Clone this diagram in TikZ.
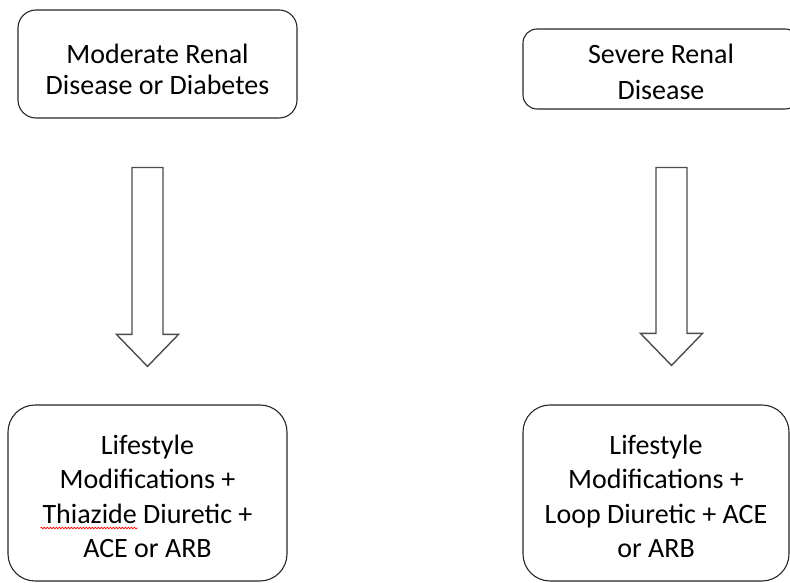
\documentclass[tikz,border=0pt]{standalone}
\usepackage{fontspec}
\setmainfont{Carlito}
\usetikzlibrary{positioning,calc,decorations.pathmorphing}
\tikzstyle{RECTANGLE_1} = [rectangle, draw=black!85, line width=1.1pt, rounded corners=18pt, align=center, inner sep=0pt, text depth=0pt]
\tikzstyle{RECTANGLE_2} = [rectangle, draw=black!85, line width=1.1pt, rounded corners=27pt, align=center, inner sep=0pt, minimum height=176pt, text height=130pt, text depth=0pt, font=\fontsize{28}{34.5}\selectfont]
\tikzstyle{BIGARROW} = [draw=black!70, line width=1.4pt, line join=miter, fill=white]
\tikzstyle{SPELL} = [draw=red, line width=0.7pt, decorate, decoration={snake, amplitude=0.8pt, segment length=3pt}]

\begin{document}
\begin{tikzpicture}[x=1pt, y=1pt]
\useasboundingbox (0,0) rectangle (790,583);
% Place nodes
\node [RECTANGLE_1, minimum width=279pt, minimum height=108pt, text height=61pt, font=\fontsize{28}{31}\selectfont] (moderate) at (157.5,519) {Moderate Renal\\Disease or Diabetes};
\node [RECTANGLE_1, rounded corners=14pt, minimum width=276pt, minimum height=80pt, text height=62pt, font=\fontsize{28}{36}\selectfont] (severe) at (661,514) {Severe Renal\\Disease};
\node [RECTANGLE_2, minimum width=279pt] (THZ) at (147.5,90) {Lifestyle\\Modifications +\\Thiazide Diuretic +\\ACE or ARB};
\node [RECTANGLE_2, minimum width=266pt] (LOOP) at (656,90) {Lifestyle\\Modifications +\\Loop Diuretic + ACE\\or ARB};
% Arrow ends
\coordinate (top_L) at ($(moderate.south -| THZ.north)+(0,-49)$);
\coordinate (tip_L) at ($(THZ.north)+(0,38)$);
\coordinate (top_R) at ($(severe.south -| LOOP.north)+(15.5,-58)$);
\coordinate (tip_R) at ($(LOOP.north)+(15.5,39)$);
% LINES and ARROWS
\draw [BIGARROW] ($(top_L)+(-15.5,0)$) -- ($(tip_L)+(-15.5,32)$) -- ($(tip_L)+(-31,32)$) -- (tip_L) -- ($(tip_L)+(31,32)$) -- ($(tip_L)+(15.5,32)$) -- ($(top_L)+(15.5,0)$) -- cycle;
\draw [BIGARROW] ($(top_R)+(-15.5,0)$) -- ($(tip_R)+(-15.5,32)$) -- ($(tip_R)+(-31,32)$) -- (tip_R) -- ($(tip_R)+(31,32)$) -- ($(tip_R)+(15.5,32)$) -- ($(top_R)+(15.5,0)$) -- cycle;
\draw [SPELL] ($(THZ.center)+(-107,-35)$) -- ($(THZ.center)+(-10,-35)$);
\end{tikzpicture}
\end{document}
